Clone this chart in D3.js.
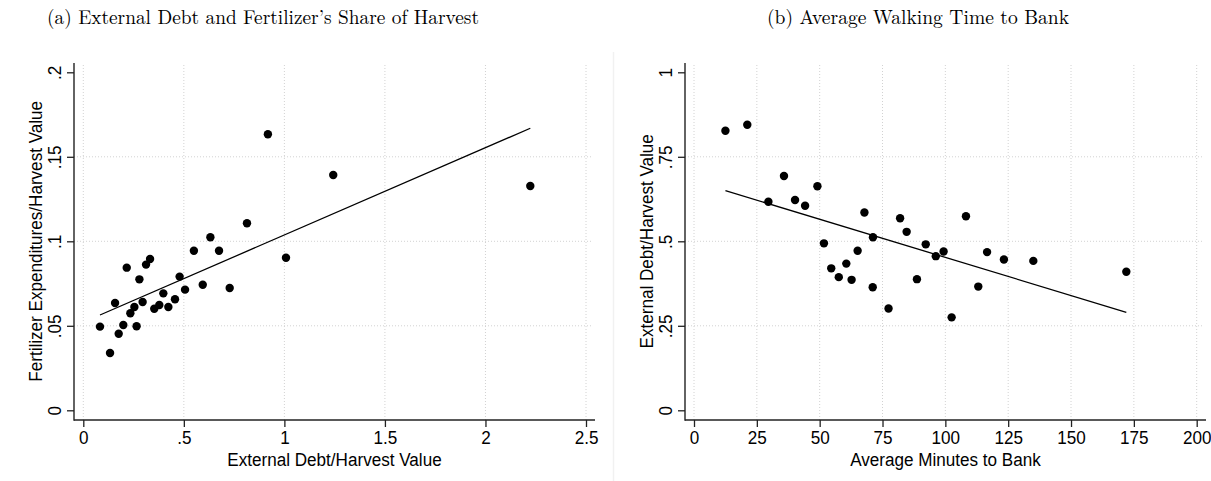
<!DOCTYPE html>
<html>
<head>
<meta charset="utf-8">
<script src="https://cdn.jsdelivr.net/npm/d3@7"></script>
<style>
  html, body { margin: 0; padding: 0; background: #fff; }
  svg { display: block; }
</style>
</head>
<body>
<script>
// Panel (a): external debt vs fertilizer share of harvest, one point per village
const debtShareA = [0.918, 1.243, 0.814, 0.632, 0.550, 0.675, 1.008, 0.216, 0.332, 0.312,
                    0.279, 0.479, 0.506, 0.594, 0.728, 0.398, 0.456, 0.378, 0.353, 0.423,
                    0.295, 0.254, 0.158, 0.234, 0.199, 0.265, 0.176, 0.083, 0.133, 2.223];
const fertShareA = [0.1633, 0.1392, 0.1107, 0.1024, 0.0944, 0.0944, 0.0903, 0.0844, 0.0895, 0.0862,
                    0.0775, 0.0791, 0.0714, 0.0743, 0.0724, 0.0692, 0.0657, 0.0623, 0.0601, 0.0611,
                    0.0641, 0.0611, 0.0635, 0.0574, 0.0505, 0.0497, 0.0453, 0.0495, 0.0339, 0.1327];
// linear fit: [intercept, slope]
const fitA = [0.0521, 0.05164];
const xTicksA = [0, 0.5, 1, 1.5, 2, 2.5];
const yTicksA = [0, 0.05, 0.1, 0.15, 0.2];

// Panel (b): walking minutes to bank vs external debt share
const minutesB = [12.5, 21.2, 35.8, 29.6, 40.2, 44.2, 49.1, 67.8, 71.2, 82.0,
                  84.6, 51.7, 54.6, 57.6, 60.6, 62.7, 65.1, 71.1, 77.4, 88.7,
                  108.2, 92.2, 96.2, 99.3, 116.6, 123.3, 135.0, 113.1, 102.5, 172.0];
const debtShareB = [0.827, 0.845, 0.693, 0.617, 0.622, 0.605, 0.663, 0.585, 0.512, 0.568,
                    0.528, 0.494, 0.420, 0.394, 0.434, 0.386, 0.472, 0.364, 0.301, 0.388,
                    0.574, 0.491, 0.456, 0.470, 0.468, 0.446, 0.442, 0.366, 0.275, 0.410];
const fitB = [0.678, -0.002256];
const xTicksB = [0, 25, 50, 75, 100, 125, 150, 175, 200];
const yTicksB = [0, 0.25, 0.5, 0.75, 1];

const W = 1211, H = 481;
const svg = d3.select("body").append("svg").attr("width", W).attr("height", H);
svg.append("rect").attr("width", W).attr("height", H).attr("fill", "#fff");

// faint edge of the right sub-figure image
svg.append("line").attr("x1", 613.5).attr("x2", 613.5).attr("y1", 52).attr("y2", H)
  .attr("stroke", "#f1f1f1").attr("stroke-width", 1.5);

const SANS = "'Liberation Sans', Arial, Helvetica, sans-serif";
const SERIF = "'Latin Modern Roman', 'CMU Serif', 'Liberation Serif', 'Times New Roman', serif";
const CONDENSE = 0.9;
const FS = 19;
const fmt = v => v === 0 ? "0" : String(v).replace(/^0\./, ".");

function panel(opts) {
  const { xs, ys, fit, xTicks, yTicks, xDomain, yDomain, axisX, xRange, yRange,
          xEnd, title, titleCx, titleLen, xTitle, yTitle } = opts;
  const x = d3.scaleLinear().domain(xDomain).range(xRange);
  const y = d3.scaleLinear().domain(yDomain).range(yRange);
  const axisY = 420, top = 64;
  const g = svg.append("g");

  // dotted grid
  g.append("g").selectAll("line").data(xTicks).join("line")
    .attr("x1", d => x(d)).attr("x2", d => x(d))
    .attr("y1", top + 1).attr("y2", axisY)
    .attr("stroke", "#d2d2d2").attr("stroke-width", 1).attr("stroke-dasharray", "1,2");
  g.append("g").selectAll("line").data(yTicks.slice(1, -1)).join("line")
    .attr("y1", d => y(d)).attr("y2", d => y(d))
    .attr("x1", axisX).attr("x2", xEnd - 2)
    .attr("stroke", "#d2d2d2").attr("stroke-width", 1).attr("stroke-dasharray", "1,2");

  // x axis
  const gx = g.append("g").attr("transform", `translate(0,${axisY})`)
    .call(d3.axisBottom(x).tickValues(xTicks).tickFormat(fmt).tickSize(7).tickSizeOuter(0));
  gx.select(".domain").remove();
  gx.selectAll(".tick line").attr("stroke", "#222").attr("stroke-width", 1.3);
  gx.selectAll(".tick text")
    .attr("y", 0).attr("dy", null).attr("fill", "#000")
    .attr("font-family", SANS).attr("font-size", FS)
    .attr("transform", `translate(0,23.5) scale(${CONDENSE},1)`);
  g.append("line").attr("x1", axisX).attr("x2", xEnd).attr("y1", axisY).attr("y2", axisY)
    .attr("stroke", "#222").attr("stroke-width", 1.4);

  // y axis
  const gy = g.append("g").attr("transform", `translate(${axisX},0)`)
    .call(d3.axisLeft(y).tickValues(yTicks).tickFormat(fmt).tickSize(7).tickSizeOuter(0));
  gy.select(".domain").remove();
  gy.selectAll(".tick line").attr("stroke", "#222").attr("stroke-width", 1.3);
  gy.selectAll(".tick text")
    .attr("x", 0).attr("y", 0).attr("dy", null).attr("fill", "#000")
    .attr("text-anchor", "middle")
    .attr("font-family", SANS).attr("font-size", FS)
    .attr("transform", `rotate(-90) translate(0,-13.5) scale(${CONDENSE},1)`);
  g.append("line").attr("x1", axisX).attr("x2", axisX).attr("y1", top - 1).attr("y2", axisY + 0.7)
    .attr("stroke", "#222").attr("stroke-width", 1.4);

  // fitted line over the observed range
  const [lo, hi] = d3.extent(xs);
  g.append("line")
    .attr("x1", x(lo)).attr("y1", y(fit[0] + fit[1] * lo))
    .attr("x2", x(hi)).attr("y2", y(fit[0] + fit[1] * hi))
    .attr("stroke", "#000").attr("stroke-width", 1.3);

  // points
  g.append("g").selectAll("circle").data(xs.map((v, i) => [v, ys[i]])).join("circle")
    .attr("cx", d => x(d[0])).attr("cy", d => y(d[1])).attr("r", 4.2).attr("fill", "#000");

  // axis titles
  g.append("text")
    .attr("transform", `translate(${(axisX + xEnd) / 2},${axisY + 46}) scale(${CONDENSE},1)`)
    .attr("text-anchor", "middle").attr("font-family", SANS).attr("font-size", FS)
    .text(xTitle);
  g.append("text")
    .attr("transform", `translate(${axisX - 32},${(y(yDomain[0]) + y(yDomain[1])) / 2}) rotate(-90) scale(${CONDENSE},1)`)
    .attr("text-anchor", "middle").attr("font-family", SANS).attr("font-size", FS)
    .text(yTitle);

  // caption
  g.append("text")
    .attr("x", titleCx - titleLen / 2).attr("y", 24)
    .attr("font-family", SERIF).attr("font-size", 20)
    .attr("textLength", titleLen).attr("lengthAdjust", "spacingAndGlyphs")
    .text(title);
}

panel({
  xs: debtShareA, ys: fertShareA, fit: fitA, xTicks: xTicksA, yTicks: yTicksA,
  xDomain: [0, 2.5], yDomain: [0, 0.2], axisX: 74, xRange: [83.3, 586], yRange: [410.3, 72.3],
  xEnd: 595, title: "(a) External Debt and Fertilizer\u2019s Share of Harvest", titleCx: 263, titleLen: 432,
  xTitle: "External Debt/Harvest Value", yTitle: "Fertilizer Expenditures/Harvest Value"
});

panel({
  xs: minutesB, ys: debtShareB, fit: fitB, xTicks: xTicksB, yTicks: yTicksB,
  xDomain: [0, 200], yDomain: [0, 1], axisX: 685, xRange: [694, 1196.7], yRange: [410.3, 72.3],
  xEnd: 1206, title: "(b) Average Walking Time to Bank", titleCx: 918, titleLen: 302,
  xTitle: "Average Minutes to Bank", yTitle: "External Debt/Harvest Value"
});
</script>
</body>
</html>
